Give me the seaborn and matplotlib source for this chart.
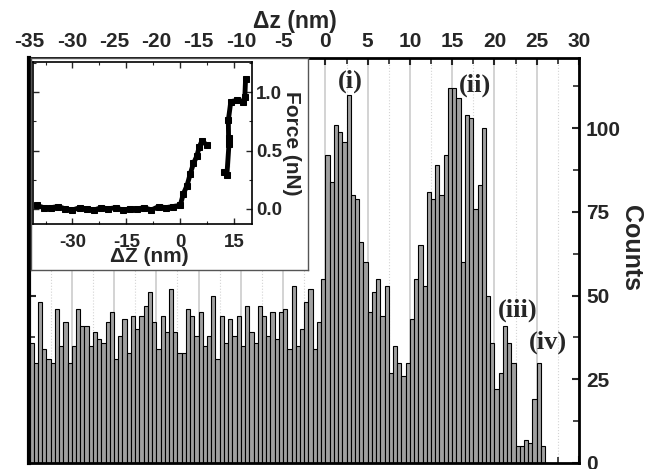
import numpy as np
import pandas as pd
import matplotlib
matplotlib.use("Agg")
import matplotlib.pyplot as plt
from matplotlib.ticker import MultipleLocator, FormatStrFormatter
import seaborn as sns

# ---------------- data ----------------
# histogram of rupture positions: 0.5 nm bins starting at -35 nm
bin_start = -35.0
bin_width = 0.5
counts = [36, 30, 48, 34, 31, 30, 46, 35, 42, 30,
          35, 46, 41, 41, 35, 39, 37, 36, 42, 45,
          31, 38, 43, 33, 44, 40, 44, 47, 51, 42,
          34, 44, 39, 52, 39, 33, 33, 46, 44, 38,
          45, 35, 38, 50, 31, 44, 36, 43, 38, 44,
          35, 47, 39, 36, 47, 44, 38, 45, 37, 45,
          46, 34, 53, 35, 40, 48, 52, 34, 42, 55,
          92, 84, 101, 99, 96, 110, 80, 79, 66, 60,
          45, 51, 55, 44, 53, 27, 35, 30, 26, 30,
          43, 55, 65, 53, 81, 79, 89, 80, 92, 112,
          112, 109, 60, 104, 103, 76, 83, 100, 50, 36,
          22, 27, 41, 36, 30, 5, 5, 7, 6, 19,
          30, 5]

# inset force curve (two segments)
seg1_z = [-40, -38, -36, -34, -32, -30, -28, -26, -24, -22, -20, -18, -16, -14,
          -12, -10, -8, -6, -4, -2, 0, 0.9, 1.9, 2.8, 3.7, 4.6, 5.3, 6.0, 7.4]
seg1_f = [0.03, 0.01, 0.01, 0.02, 0.00, -0.01, 0.01, 0.00, -0.01, 0.01, 0.00, 0.01,
          -0.01, 0.00, 0.00, 0.01, -0.01, 0.02, 0.01, 0.02, 0.03, 0.13, 0.20, 0.30,
          0.39, 0.45, 0.53, 0.58, 0.55]
seg2_z = [12.2, 13.0, 13.7, 13.5, 13.4, 13.7, 14.1, 15.7, 17.4, 18.0, 18.0, 18.2]
seg2_f = [0.32, 0.29, 0.36, 0.56, 0.76, 0.85, 0.92, 0.93, 0.92, 0.90, 1.02, 1.11]

peak_labels = ["(i)", "(ii)", "(iii)", "(iv)"]
peak_label_x = [2.9, 17.7, 22.8, 26.3]
peak_label_y = [114, 113, 45.5, 36]

top_ticks = [-35, -30, -25, -20, -15, -10, -5, 0, 5, 10, 15, 20, 25, 30]
count_ticks = [0, 25, 50, 75, 100]
inset_xticks = [-30, -15, 0, 15]
inset_yticks = [0.0, 0.5, 1.0]

# ---------------- style ----------------
sns.set_style("white")
plt.rcParams["font.family"] = ["Liberation Sans", "DejaVu Sans"]
plt.rcParams["font.weight"] = "bold"
plt.rcParams["axes.labelweight"] = "bold"
plt.rcParams["axes.unicode_minus"] = False

fig = plt.figure(figsize=(6.48, 4.69), dpi=100)
ax = fig.add_axes([0.0455, 0.0128, 0.848, 0.8635])

n_bins = len(counts)
centers = bin_start + bin_width * (np.arange(n_bins) + 0.5)
df = pd.DataFrame({"z": centers, "n": counts})
sns.histplot(data=df, x="z", weights="n", binwidth=bin_width,
             binrange=(bin_start, bin_start + bin_width * n_bins), ax=ax, stat="count",
             color="#a0a0a0", edgecolor="black", linewidth=0.8, alpha=1.0, zorder=2)

ax.set_xlim(-35, 30)
ax.set_ylim(0, 121)
ax.set_axisbelow(True)

ax.set_xticks(top_ticks)
ax.xaxis.set_minor_locator(MultipleLocator(2.5))
ax.set_yticks(count_ticks)
ax.yaxis.set_minor_locator(MultipleLocator(12.5))

ax.grid(axis="x", which="major", color="#c8c8c8", lw=1.1, ls="-")
ax.grid(axis="x", which="minor", color="#d4d4d4", lw=0.8, ls=":")

ax.xaxis.set_label_position("top")
ax.yaxis.set_label_position("right")
ax.tick_params(axis="x", which="both", top=True, bottom=True, labeltop=True,
               labelbottom=False, direction="in")
ax.tick_params(axis="y", which="both", left=True, right=True, labelleft=False,
               labelright=True, direction="in")
ax.tick_params(which="major", length=5, width=1.5, labelsize=15, pad=5)
ax.tick_params(which="minor", length=4, width=1.2)
for lab in ax.get_xticklabels() + ax.get_yticklabels():
    lab.set_fontweight("bold")

ax.set_xlabel("\u0394z (nm)", fontsize=16.5, fontweight="bold")
ax.xaxis.set_label_coords(0.483, 1.075)
ax.set_ylabel("Counts", fontsize=18, fontweight="bold", rotation=270, va="center")
ax.yaxis.set_label_coords(1.095, 0.53)

for s in ax.spines.values():
    s.set_color("black")
    s.set_linewidth(2)
ax.spines["left"].set_linewidth(3)

for t, x, y in zip(peak_labels, peak_label_x, peak_label_y):
    ax.text(x, y, t, family=["Liberation Serif", "DejaVu Serif"], fontweight="bold",
            fontsize=19, ha="center", va="center", zorder=5)

# ---------------- inset ----------------
box = fig.add_axes([0.0478, 0.4243, 0.4275, 0.452])
box.set_xticks([])
box.set_yticks([])
box.set_facecolor("white")
for s in box.spines.values():
    s.set_color("#555555")
    s.set_linewidth(1)
box.set_zorder(3)

ins = fig.add_axes([0.0509, 0.5224, 0.338, 0.3454])
ins.set_zorder(4)
ins.set_facecolor("white")
sns.lineplot(x=seg1_z, y=seg1_f, ax=ins, color="black", lw=3.5, marker="s",
             markersize=4.5, markeredgecolor="black", sort=False)
sns.lineplot(x=seg2_z, y=seg2_f, ax=ins, color="black", lw=3.5, marker="s",
             markersize=4.5, markeredgecolor="black", sort=False)
ins.set_xlim(-41, 20)
ins.set_ylim(-0.13, 1.26)
ins.set_xticks(inset_xticks)
ins.xaxis.set_minor_locator(MultipleLocator(7.5))
ins.set_yticks(inset_yticks)
ins.yaxis.set_minor_locator(MultipleLocator(0.25))
ins.yaxis.set_major_formatter(FormatStrFormatter("%.1f"))
ins.tick_params(axis="x", which="both", top=True, bottom=True, direction="in")
ins.tick_params(axis="y", which="both", left=True, right=True, labelleft=False,
                labelright=True, direction="in")
ins.tick_params(which="major", length=4, width=1, labelsize=13.5, pad=3)
ins.tick_params(axis="x", which="major", pad=7)
ins.tick_params(which="minor", length=2.5, width=0.8)
for lab in ins.get_xticklabels() + ins.get_yticklabels():
    lab.set_fontweight("bold")
for s in ins.spines.values():
    s.set_color("black")
    s.set_linewidth(1.2)
ins.set_xlabel("\u0394Z (nm)", fontsize=15, fontweight="bold")
ins.xaxis.set_label_coords(0.53, -0.14)
ins.yaxis.set_label_position("right")
ins.set_ylabel("Force (nN)", fontsize=15, fontweight="bold", rotation=270, va="center")
ins.yaxis.set_label_coords(1.18, 0.5)

fig.savefig("out.png", dpi=100)
